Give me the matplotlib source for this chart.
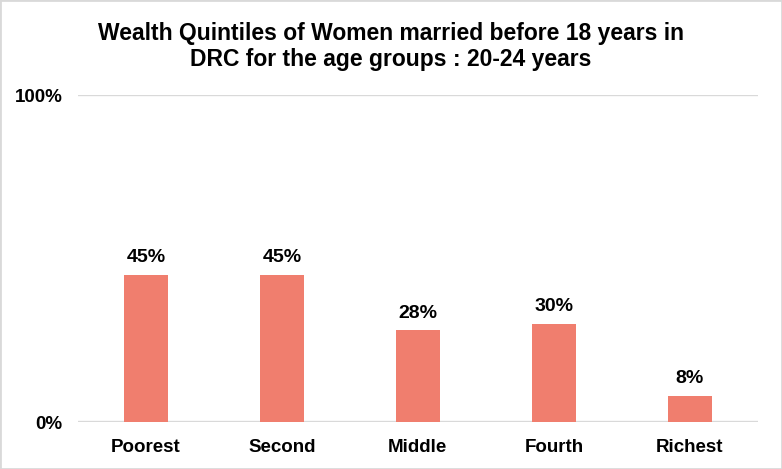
import matplotlib.pyplot as plt
from matplotlib.patches import Rectangle

categories = ['Poorest', 'Second', 'Middle', 'Fourth', 'Richest']
values = [45, 45, 28, 30, 8]
labels = ['45%', '45%', '28%', '30%', '8%']
yticks = [0, 100]
ytick_labels = ['0%', '100%']

plt.rcParams['font.family'] = ['Liberation Sans', 'DejaVu Sans']

fig = plt.figure(figsize=(7.82, 4.69), dpi=100)
ax = fig.add_axes([0.0997, 0.1002, 0.8693, 0.6972])

x = range(len(categories))
bars = ax.bar(x, values, width=0.32, color='#F07E6E', zorder=3)
for b, lab in zip(bars, labels):
    ax.text(b.get_x() + b.get_width() / 2, b.get_height() + 2.6, lab,
            ha='center', va='bottom', fontsize=14, fontweight='bold')

ax.set_xlim(-0.5, len(categories) - 0.5)
ax.set_ylim(0, 100)
ax.set_yticks(yticks)
ax.set_yticklabels(ytick_labels, fontsize=13.5, fontweight='bold')
ax.set_xticks(list(x))
ax.set_xticklabels(categories, fontsize=13.5, fontweight='bold')
ax.tick_params(length=0)
ax.tick_params(axis='y', pad=11)
ax.tick_params(axis='x', pad=12)
ax.grid(axis='y', color='#D9D9D9', linewidth=1.7, zorder=0)
for s in ax.spines.values():
    s.set_visible(False)

fig.text(0.5, 0.901, 'Wealth Quintiles of Women married before 18 years in\nDRC for the age groups : 20-24 years',
         ha='center', va='center', fontsize=16.5, fontweight='bold', linespacing=1.15)

fig.patches.append(Rectangle((0, 0), 1, 1, transform=fig.transFigure, fill=False,
                             edgecolor='#D9D9D9', linewidth=2))

fig.savefig('out.png', dpi=100)
